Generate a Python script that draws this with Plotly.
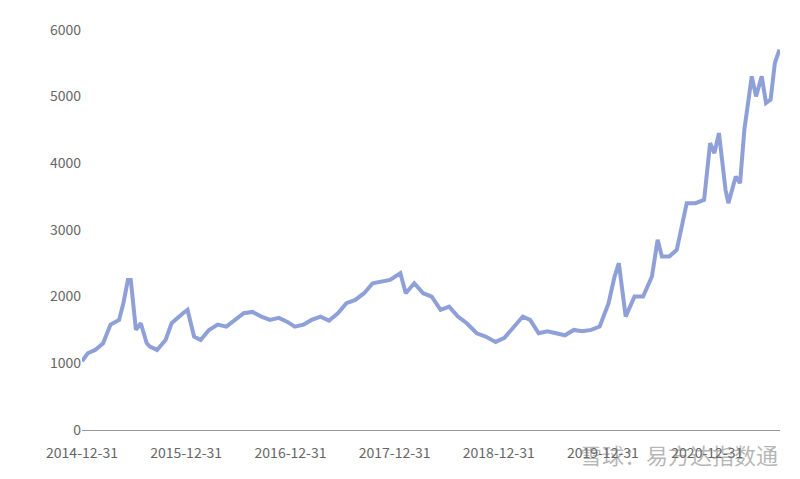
import plotly.graph_objects as go

dates = ["2014-12-31","2015-01-20","2015-02-15","2015-03-15","2015-04-10","2015-05-10","2015-05-25","2015-06-10","2015-06-20","2015-07-08","2015-07-25","2015-08-15","2015-08-26","2015-09-20","2015-10-20","2015-11-10","2015-12-20","2016-01-05","2016-01-28","2016-02-20","2016-03-20","2016-04-20","2016-05-20","2016-06-20","2016-07-20","2016-08-20","2016-09-20","2016-10-20","2016-11-20","2016-12-20","2017-01-15","2017-02-15","2017-03-15","2017-04-15","2017-05-15","2017-06-15","2017-07-15","2017-08-15","2017-09-15","2017-10-15","2017-11-15","2017-12-15","2018-01-20","2018-02-08","2018-03-10","2018-04-10","2018-05-10","2018-06-10","2018-07-10","2018-08-10","2018-09-10","2018-10-15","2018-11-15","2018-12-20","2019-01-20","2019-02-25","2019-03-25","2019-04-20","2019-05-20","2019-06-20","2019-07-20","2019-08-20","2019-09-20","2019-10-20","2019-11-20","2019-12-20","2020-01-20","2020-02-10","2020-02-25","2020-03-20","2020-04-20","2020-05-20","2020-06-20","2020-07-10","2020-07-25","2020-08-20","2020-09-15","2020-10-01","2020-10-20","2020-11-20","2020-12-20","2021-01-10","2021-01-25","2021-02-10","2021-03-05","2021-03-15","2021-04-10","2021-04-25","2021-05-10","2021-06-05","2021-06-20","2021-07-10","2021-07-25","2021-08-10","2021-08-25","2021-09-10"]
values = [1030,1150,1200,1300,1580,1650,1900,2250,2250,1500,1600,1300,1250,1200,1350,1600,1750,1800,1400,1350,1500,1580,1550,1650,1750,1770,1700,1650,1680,1620,1550,1580,1650,1700,1640,1750,1900,1950,2050,2200,2230,2250,2350,2050,2200,2050,2000,1800,1850,1700,1600,1450,1400,1320,1380,1550,1700,1650,1450,1480,1450,1420,1500,1480,1500,1550,1900,2300,2500,1700,2000,2000,2300,2850,2600,2600,2700,3000,3400,3400,3450,4300,4150,4450,3600,3400,3800,3700,4500,5300,5000,5300,4900,4950,5500,5700]

tickvals = ["2014-12-31","2015-12-31","2016-12-31","2017-12-31","2018-12-31","2019-12-31","2020-12-31"]
ticktext = ["2014-12-31","2015-12-31","2016-12-31","2017-12-31","2018-12-31","2019-12-31","2020-12-31"]

fig = go.Figure(go.Scatter(x=dates, y=values, mode="lines",
                           line=dict(color="#8fa0d8", width=4)))
fig.update_layout(
    width=800, height=479, paper_bgcolor="white", plot_bgcolor="white",
    margin=dict(l=74, r=28, t=11, b=57), showlegend=False,
    font=dict(family="Noto Sans CJK SC", size=14, color="#666666"),
    xaxis=dict(tickvals=tickvals, ticktext=ticktext, range=["2014-12-31","2021-09-12"],
               showgrid=False, showline=True, linecolor="#999999", ticks="", zeroline=False,
               ticklabelstandoff=10),
    yaxis=dict(range=[0,6010], tickvals=[0,1000,2000,3000,4000,5000,6000],
               showgrid=False, zeroline=False, ticks=""),
)
fig.add_annotation(text="雪球：易方达指数通", xref="paper", yref="paper", x=1.0, y=-0.06,
                   xanchor="right", yanchor="middle", showarrow=False,
                   font=dict(size=22, color="rgba(110,110,110,0.5)"))
fig.write_html("out.html")
